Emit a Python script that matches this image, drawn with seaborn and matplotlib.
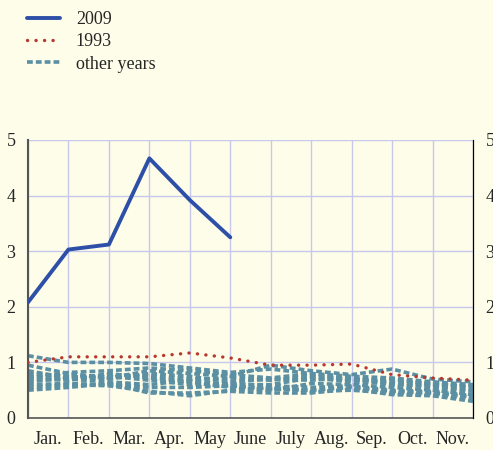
import numpy as np
import pandas as pd
import seaborn as sns
import matplotlib
matplotlib.use("Agg")
from matplotlib import pyplot as plt
from matplotlib.lines import Line2D

months = ["Jan.", "Feb.", "Mar.", "Apr.", "May", "June", "July", "Aug.", "Sep.", "Oct.", "Nov."]

y2009 = [2.08, 3.03, 3.12, 4.67, 3.92, 3.25]
y1993 = [1.0, 1.1, 1.1, 1.1, 1.17, 1.08, 0.95, 0.95, 0.97, 0.78, 0.72, 0.68]

other_years = [
    [1.12, 1.0, 1.0, 0.98, 0.9, 0.82, 0.88, 0.8, 0.75, 0.72, 0.65, 0.6],
    [0.95, 0.8, 0.72, 0.85, 0.8, 0.75, 0.95, 0.85, 0.78, 0.88, 0.7, 0.65],
    [0.85, 0.72, 0.78, 0.75, 0.7, 0.72, 0.68, 0.75, 0.7, 0.65, 0.62, 0.55],
    [0.8, 0.75, 0.7, 0.8, 0.75, 0.65, 0.7, 0.68, 0.72, 0.6, 0.58, 0.5],
    [0.75, 0.7, 0.65, 0.6, 0.68, 0.6, 0.6, 0.72, 0.65, 0.62, 0.55, 0.48],
    [0.7, 0.68, 0.8, 0.72, 0.65, 0.55, 0.5, 0.62, 0.6, 0.55, 0.5, 0.42],
    [0.65, 0.72, 0.75, 0.68, 0.6, 0.62, 0.58, 0.55, 0.58, 0.5, 0.48, 0.4],
    [0.6, 0.62, 0.6, 0.55, 0.55, 0.58, 0.52, 0.5, 0.55, 0.48, 0.45, 0.38],
    [0.55, 0.6, 0.58, 0.48, 0.4, 0.5, 0.55, 0.48, 0.5, 0.45, 0.42, 0.35],
    [0.5, 0.55, 0.62, 0.45, 0.45, 0.48, 0.45, 0.45, 0.52, 0.42, 0.4, 0.3],
    [0.72, 0.82, 0.85, 0.9, 0.85, 0.78, 0.72, 0.8, 0.68, 0.7, 0.6, 0.58],
]

bg = "#fdfdea"
grid_c = "#c6c8ec"
c2009 = "#2d4fa8"
c1993 = "#b8382e"
cother = "#5b8fa3"

sns.set_style("white")
plt.rcParams["font.family"] = ["Liberation Serif", "DejaVu Serif"]

rows = []
for i, vals in enumerate(other_years):
    for m, v in enumerate(vals):
        rows.append({"year": i, "month": m, "value": v})
df_other = pd.DataFrame(rows)
df_1993 = pd.DataFrame({"month": range(len(y1993)), "value": y1993})
df_2009 = pd.DataFrame({"month": range(len(y2009)), "value": y2009})

fig = plt.figure(figsize=(4.93, 4.5), dpi=100, facecolor=bg)
ax = fig.add_axes([28 / 493, 1 - 418 / 450, 445 / 493, 278 / 450])
ax.set_facecolor(bg)

sns.lineplot(data=df_other, x="month", y="value", units="year", estimator=None,
             color=cother, lw=2.6, dashes=(1.6, 0.85), ax=ax, zorder=2)
sns.lineplot(data=df_1993, x="month", y="value", color=c1993, lw=2.4,
             linestyle=(0, (0.05, 2.5)), dash_capstyle="round", ax=ax, zorder=3)
sns.lineplot(data=df_2009, x="month", y="value", color=c2009, lw=2.8, ax=ax, zorder=4)

ax.set_xlim(0, 11)
ax.set_ylim(0, 5)
ax.set_xlabel("")
ax.set_ylabel("")

ax.set_xticks(range(12))
ax.set_xticklabels([])
ax.set_xticks(np.arange(0.5, 11, 1), minor=True)
ax.set_xticklabels(months, minor=True, fontsize=13)
ax.tick_params(axis="x", which="major", direction="out", length=3, color="#555555", width=1)
ax.tick_params(axis="x", which="minor", length=0, pad=9)
ax.set_yticks(range(6))
ax.set_yticklabels([str(i) for i in range(6)], fontsize=13)
ax.tick_params(axis="y", length=0, pad=9)

ax.grid(True, which="major", color=grid_c, lw=1)
ax.set_axisbelow(True)

ax.spines["top"].set_visible(False)
ax.spines["left"].set_color("#555555")
ax.spines["bottom"].set_color("#555555")
ax.spines["right"].set_color("black")
ax.spines["left"].set_linewidth(1.5)
ax.spines["bottom"].set_linewidth(1.2)

ax2 = ax.twinx()
ax2.set_ylim(0, 5)
ax2.set_yticks(range(6))
ax2.set_yticklabels([str(i) for i in range(6)], fontsize=13)
ax2.tick_params(axis="y", length=0, pad=9)
for s in ["top", "left", "bottom"]:
    ax2.spines[s].set_visible(False)
ax2.spines["right"].set_color("black")

handles = [
    Line2D([], [], color=c2009, lw=2.8),
    Line2D([], [], color=c1993, lw=2.4, linestyle=(0, (0.05, 2.5)), dash_capstyle="round"),
    Line2D([], [], color=cother, lw=2.6, dashes=(1.6, 0.85)),
]
fig.legend(handles, ["2009", "1993", "other years"], loc="upper left",
           bbox_to_anchor=(0.022, 1.012), frameon=False, fontsize=13,
           handlelength=1.85, labelspacing=0.3, handletextpad=0.85)

fig.savefig("out.png", dpi=100, facecolor=bg)
